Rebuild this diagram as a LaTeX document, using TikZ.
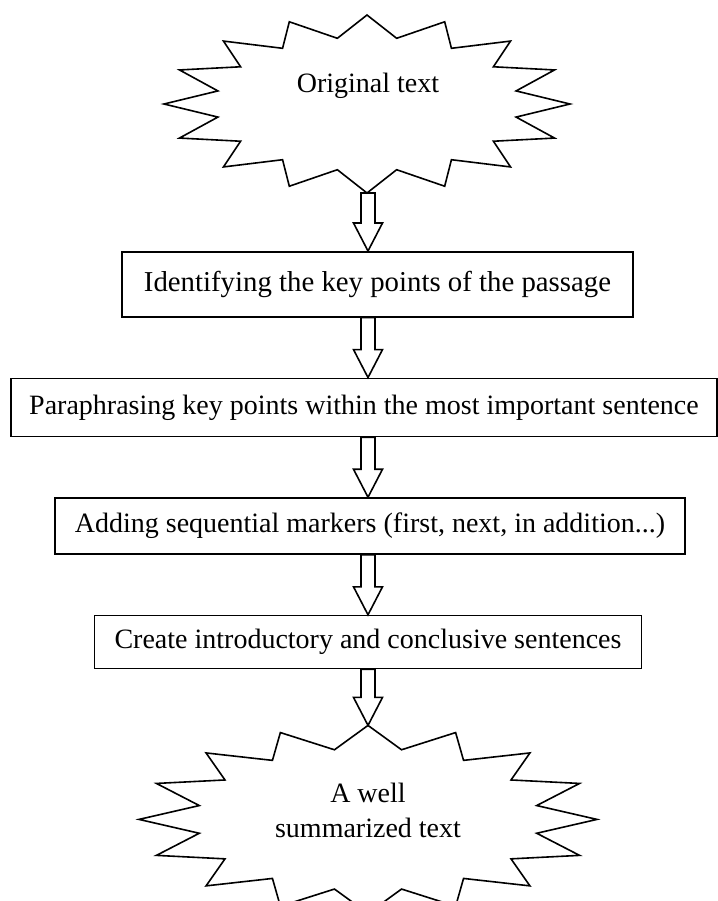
\documentclass[tikz,border=0pt]{standalone}
\usepackage{fontspec}
\setmainfont{Liberation Serif}
\usetikzlibrary{calc,
                positioning}
\tikzset{
        base/.style={draw, line width=0.8pt, align=center},
        proc/.style={base, rectangle, inner xsep=10pt},
        label/.style={align=center},
        burstline/.style={line width=0.8pt, line join=miter},
        hollow/.style={line width=0.8pt, line join=miter,
                       to path={let \p1=(\tikztostart), \p2=(\tikztotarget) in
                       (\x1-3.5pt,\y1) -- (\x1-3.5pt,\y2+14pt) -- (\x1-7.25pt,\y2+14pt)
                       -- (\x1,\y2) -- (\x1+7.25pt,\y2+14pt) -- (\x1+3.5pt,\y2+14pt)
                       -- (\x1+3.5pt,\y1) -- cycle}},
 }
% 16 pointed star round a centre: centre, outer radii, inner radii
\newcommand{\burst}[5]{%
    \draw[burstline, shift={(#1)}] (90:#2 and #3)
        \foreach \k in {1,...,16} {
            -- ({90+22.5*\k-11.25}:#4 and #5) -- ({90+22.5*\k}:#2 and #3)
        } -- cycle;}

\begin{document}
\begin{tikzpicture}[x=0.5pt, y=-0.5pt, node distance=30pt,
                    font=\fontsize{14}{17.5}\selectfont]
    \useasboundingbox (0,0) rectangle (718,901);

    \coordinate (origc) at (367,104);
    \coordinate (origtip) at (368,193);
    \node[label] (orig) at (368,86) {Original text};

    \node[proc, minimum height=32.5pt, inner xsep=11pt, font=\fontsize{14.4}{17.5}\selectfont,
          below=29pt of origtip, xshift=4.75pt] (ident)
         {Identifying the key points of the passage};
    \node[proc, minimum height=29pt, inner xsep=9pt, below= of ident, xshift=-6.75pt] (para)
         {Paraphrasing key points within the most important sentence};
    \node[proc, minimum height=28pt, below= of para, xshift=3pt] (markers)
         {Adding sequential markers (first, next, in addition...)};
    \node[proc, minimum height=26.5pt, below= of markers, xshift=-1pt] (create)
         {Create introductory and conclusive sentences};

    \coordinate[below=28pt of create.south -| origtip] (welltip);
    \coordinate (wellc) at ($(welltip)+(0,94)$);
    \node[label] (well) at ($(welltip)+(0,85)$) {A well\\summarized text};

    \burst{origc}{203}{89}{152}{67}
    \burst{wellc}{229}{94}{172}{71}

    \draw[hollow] (origtip) to (ident.north -| origtip);
    \draw[hollow] (ident.south -| origtip) to (para.north -| origtip);
    \draw[hollow] (para.south -| origtip) to (markers.north -| origtip);
    \draw[hollow] (markers.south -| origtip) to (create.north -| origtip);
    \draw[hollow] (create.south -| origtip) to (welltip);

\end{tikzpicture}
\end{document}
